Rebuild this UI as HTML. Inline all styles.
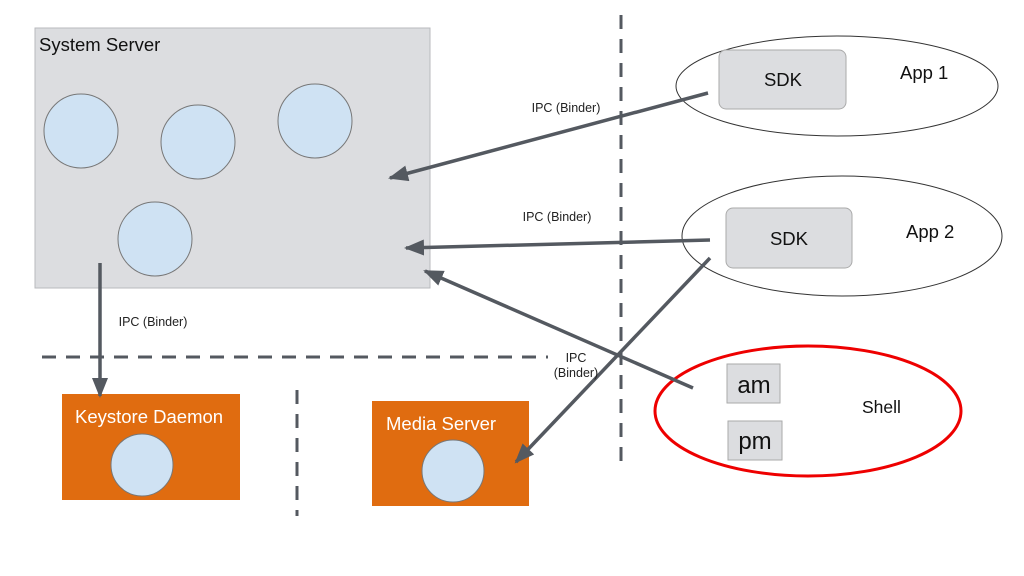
<!DOCTYPE html>
<html><head><meta charset="utf-8"><style>
html,body{margin:0;padding:0;background:#fff;}
svg{display:block;font-family:"Liberation Sans",Arial,sans-serif;}
</style></head><body>
<svg width="1024" height="576" viewBox="0 0 1024 576" xmlns="http://www.w3.org/2000/svg">
<defs>
<marker id="ah2" markerWidth="20" markerHeight="16" refX="18" refY="8" orient="auto" markerUnits="userSpaceOnUse">
<path d="M0,0 L20,8 L0,16 z" fill="#545960"/>
</marker>
</defs>
<line x1="621" y1="15" x2="621" y2="465" stroke="#545960" stroke-width="3" stroke-dasharray="14,10"/>
<line x1="42" y1="357" x2="548" y2="357" stroke="#545960" stroke-width="3" stroke-dasharray="14,10"/>
<line x1="297" y1="390" x2="297" y2="516" stroke="#545960" stroke-width="3" stroke-dasharray="14,10"/>
<rect x="35" y="28" width="395" height="260" fill="#dcdde0" stroke="#b8babe"/>
<text x="39" y="51" font-size="18.5" fill="#111">System Server</text>
<g fill="#cfe2f3" stroke="#777">
<circle cx="81" cy="131" r="37"/><circle cx="198" cy="142" r="37"/><circle cx="315" cy="121" r="37"/><circle cx="155" cy="239" r="37"/>
</g>
<rect x="62" y="394" width="178" height="106" fill="#e06c10"/>
<text x="75" y="423" font-size="18.5" fill="#fff">Keystore Daemon</text>
<circle cx="142" cy="465" r="31" fill="#cfe2f3" stroke="#777"/>
<rect x="372" y="401" width="157" height="105" fill="#e06c10"/>
<text x="386" y="430" font-size="18.5" fill="#fff">Media Server</text>
<circle cx="453" cy="471" r="31" fill="#cfe2f3" stroke="#777"/>
<ellipse cx="837" cy="86" rx="161" ry="50" fill="#fff" stroke="#333"/>
<rect x="719" y="50" width="127" height="59" rx="7" fill="#dcdde0" stroke="#aaa"/>
<text x="783" y="86" font-size="18.5" text-anchor="middle" fill="#111">SDK</text>
<text x="900" y="79" font-size="18.5" fill="#111">App 1</text>
<ellipse cx="842" cy="236" rx="160" ry="60" fill="#fff" stroke="#333"/>
<rect x="726" y="208" width="126" height="60" rx="7" fill="#dcdde0" stroke="#aaa"/>
<text x="789" y="245" font-size="18.5" text-anchor="middle" fill="#111">SDK</text>
<text x="906" y="238" font-size="18.5" fill="#111">App 2</text>
<ellipse cx="808" cy="411" rx="153" ry="65" fill="#fff" stroke="#e00" stroke-width="3"/>
<rect x="727" y="364" width="53" height="39" fill="#dcdde0" stroke="#aaa"/>
<text x="754" y="393" font-size="24" text-anchor="middle" fill="#111">am</text>
<rect x="728" y="421" width="54" height="39" fill="#dcdde0" stroke="#aaa"/>
<text x="755" y="449" font-size="24" text-anchor="middle" fill="#111">pm</text>
<text x="862" y="413" font-size="17.5" fill="#111">Shell</text>
<g stroke="#545960" stroke-width="3.5" fill="none">
<line x1="708" y1="93" x2="390" y2="178" marker-end="url(#ah2)"/>
<line x1="710" y1="240" x2="406" y2="248" marker-end="url(#ah2)"/>
<line x1="693" y1="388" x2="425" y2="271" marker-end="url(#ah2)"/>
<line x1="710" y1="258" x2="516" y2="462" marker-end="url(#ah2)"/>
<line x1="100" y1="263" x2="100" y2="396" marker-end="url(#ah2)"/>
</g>
<g font-size="12.5" fill="#222" text-anchor="middle">
<text x="566" y="112">IPC (Binder)</text>
<text x="557" y="221">IPC (Binder)</text>
<text x="153" y="326">IPC (Binder)</text>
<text x="576" y="362">IPC</text>
<text x="576" y="377">(Binder)</text>
</g>
</svg>
</body></html>
